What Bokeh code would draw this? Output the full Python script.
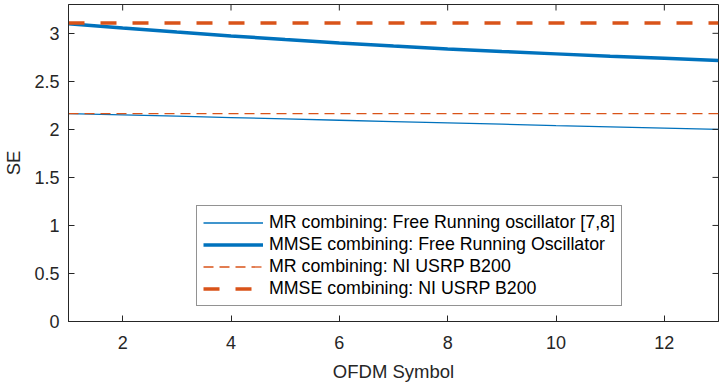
from bokeh.plotting import figure
from bokeh.models import FixedTicker, Range1d, Legend, LegendItem
from bokeh.embed import file_html
from bokeh.resources import INLINE

# ---- data ----
symbols = [1, 2, 3, 4, 5, 6, 7, 8, 9, 10, 11, 12, 13]
se_mr_free = [2.165, 2.151, 2.137, 2.123, 2.109, 2.095, 2.081, 2.067, 2.054, 2.040, 2.027, 2.013, 2.000]
se_mmse_free = [3.100, 3.055, 3.013, 2.973, 2.936, 2.900, 2.867, 2.838, 2.811, 2.786, 2.762, 2.740, 2.718]
se_mr_usrp = [2.165] * 13
se_mmse_usrp = [3.108] * 13

x_ticks = [2, 4, 6, 8, 10, 12]
y_ticks = [0, 0.5, 1, 1.5, 2, 2.5, 3]
y_tick_labels = ["0", "0.5", "1", "1.5", "2", "2.5", "3"]
legend_labels = [
    "MR combining: Free Running oscillator [7,8]",
    "MMSE combining: Free Running Oscillator",
    "MR combining: NI USRP B200",
    "MMSE combining: NI USRP B200",
]
x_min, x_max = 1, 13
y_min, y_max = 0, 3.3

BLUE = "#0072BD"
ORANGE = "#D95319"
AXC = "#262626"
FONT = "Liberation Sans"

p = figure(
    frame_width=650, frame_height=317,
    min_border_left=59, min_border_right=2, min_border_top=4, min_border_bottom=60,
    x_range=Range1d(x_min, x_max), y_range=Range1d(y_min, y_max),
    output_backend="svg", toolbar_location=None,
    background_fill_color="white", border_fill_color="white",
)
p.xgrid.visible = False
p.ygrid.visible = False
p.outline_line_color = AXC
p.outline_line_width = 1

r_mr_free = p.line(symbols, se_mr_free, line_color=BLUE, line_width=1.3)
r_mmse_free = p.line(symbols, se_mmse_free, line_color=BLUE, line_width=3.5)
r_mr_usrp = p.line(symbols, se_mr_usrp, line_color=ORANGE, line_width=1.3, line_dash="10 6")
r_mmse_usrp = p.line(symbols, se_mmse_usrp, line_color=ORANGE, line_width=3.5, line_dash="16 16")

# inward ticks on the top and right edges of the box (MATLAB "box on")
p.ray(x=x_ticks, y=[y_max] * len(x_ticks), length=6, length_units="screen",
      angle=-90, angle_units="deg", line_color=AXC, line_width=1)
p.ray(x=[x_max] * len(y_ticks), y=y_ticks, length=6, length_units="screen",
      angle=180, angle_units="deg", line_color=AXC, line_width=1)

for ax, ticks in ((p.xaxis[0], x_ticks), (p.yaxis[0], y_ticks)):
    ax.ticker = FixedTicker(ticks=ticks)
    ax.major_tick_in = 6
    ax.major_tick_out = 0
    ax.minor_tick_line_color = None
    ax.axis_line_color = AXC
    ax.major_tick_line_color = AXC
    ax.major_label_text_font = FONT
    ax.major_label_text_color = AXC
    ax.major_label_text_font_size = "18px"
    ax.axis_label_text_font = FONT
    ax.axis_label_text_font_size = "18.5px"
    ax.axis_label_text_font_style = "normal"
    ax.axis_label_text_color = AXC

p.yaxis[0].major_label_overrides = {t: l for t, l in zip(y_ticks, y_tick_labels)}
p.xaxis[0].major_label_standoff = 14
p.yaxis[0].major_label_standoff = 9
p.xaxis[0].axis_label = "OFDM Symbol"
p.yaxis[0].axis_label = "SE"
p.xaxis[0].axis_label_standoff = 9
p.yaxis[0].axis_label_standoff = 7

legend = Legend(
    items=[
        LegendItem(label=legend_labels[0], renderers=[r_mr_free]),
        LegendItem(label=legend_labels[1], renderers=[r_mmse_free]),
        LegendItem(label=legend_labels[2], renderers=[r_mr_usrp]),
        LegendItem(label=legend_labels[3], renderers=[r_mmse_usrp]),
    ],
    location=(128, 15),
    orientation="vertical",
    margin=0, padding=6, spacing=1,
    glyph_width=60, glyph_height=21, label_height=21, label_standoff=6,
    label_text_font=FONT, label_text_font_size="17.8px", label_text_color="black",
    border_line_color=AXC, border_line_width=1,
    background_fill_color="white", background_fill_alpha=1.0,
)
p.add_layout(legend, "center")

open("out.html", "w").write(file_html(p, INLINE))
